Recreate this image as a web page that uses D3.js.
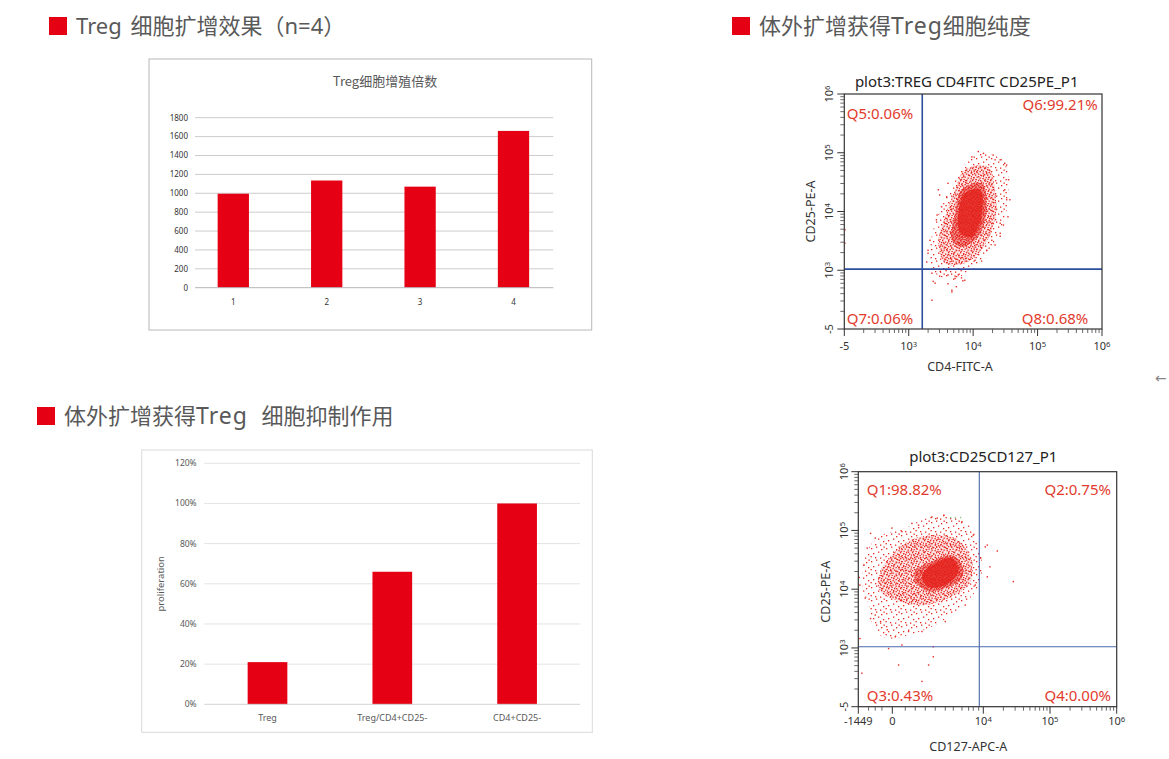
<!DOCTYPE html>
<html>
<head>
<meta charset="utf-8">
<script src="https://cdn.jsdelivr.net/npm/d3@7"></script>
<style>
  body { margin: 0; background: #fff; }
  svg { display: block; }
  text { white-space: pre; }
</style>
</head>
<body>
<svg id="page" width="1169" height="759"></svg>
<script>

/////////////////////////////////////////////////////////////////////////////////////////////////////
/**
 * Data
 *
 * */

var headerTexts = ["Treg 细胞扩增效果（n=4）", "体外扩增获得Treg细胞纯度", "体外扩增获得Treg 细胞抑制作用"];

// fold expansion, n=4
var growthTitle = "Treg细胞增殖倍数";
var growthCats = ["1", "2", "3", "4"];
var growthVals = [995, 1135, 1070, 1660];
var growthTicks = [0, 200, 400, 600, 800, 1000, 1200, 1400, 1600, 1800];

// suppression assay
var suppCats = ["Treg", "Treg/CD4+CD25-", "CD4+CD25-"];
var suppVals = [0.21, 0.66, 1.00];
var suppTicks = [0, 0.2, 0.4, 0.6, 0.8, 1.0, 1.2];
var suppAxisTitle = "proliferation";

// flow plots: all coordinates in display decades (10^3 -> 3, 10^4 -> 4 ...),
// the lowest label (-5 / -1449) sits at the low end of the axis
var purityTitle = "plot3:TREG CD4FITC CD25PE_P1";
var purityAxisTitles = ["CD4-FITC-A", "CD25-PE-A"];
var purityXTicks = [[2, "-5"], [3, "10", "3"], [4, "10", "4"], [5, "10", "5"], [6, "10", "6"]];
var purityYTicks = [[2, "-5"], [3, "10", "3"], [4, "10", "4"], [5, "10", "5"], [6, "10", "6"]];
var purityQuads = ["Q5:0.06%", "Q6:99.21%", "Q7:0.06%", "Q8:0.68%"];   // UL, UR, LL, LR
var purityGate = [3.21, 3.02];
// density outlines of the event cloud, sparse -> solid
var purityHalo = [[4.18, 4.99], [4.49, 4.83], [4.52, 4.03], [4.44, 3.74], [4.29, 3.40], [4.13, 3.12],
                  [3.87, 2.95], [3.72, 2.83], [3.41, 2.95], [3.33, 3.23], [3.38, 3.69], [3.56, 4.20],
                  [3.72, 4.54], [3.92, 4.88]];
var purityMid = [[3.87, 4.71], [4.23, 4.76], [4.34, 4.37], [4.34, 3.86], [4.13, 3.34], [3.87, 3.12],
                 [3.56, 3.12], [3.46, 3.46], [3.56, 3.91], [3.72, 4.37]];
var purityCore = [[3.82, 4.37], [4.13, 4.48], [4.21, 4.08], [4.08, 3.57], [3.82, 3.40], [3.67, 3.51],
                  [3.72, 3.97]];
var purityHeart = [[3.87, 4.31], [4.11, 4.37], [4.13, 3.91], [3.98, 3.57], [3.80, 3.63], [3.77, 3.97]];
var purityDots = [[3.38, 2.81], [3.67, 2.66], [3.36, 2.49], [3.82, 2.87], [3.72, 2.90], [3.84, 2.82],
                  [4.54, 3.91], [4.52, 4.79], [4.42, 4.88], [2.01, 3.69], [2.01, 3.46], [3.48, 2.90],
                  [3.61, 2.77], [3.28, 3.14], [4.57, 4.20], [4.34, 3.43], [4.42, 3.58], [3.48, 4.28],
                  [3.44, 3.94], [4.16, 4.99], [4.31, 4.96], [4.49, 4.82], [3.61, 4.48], [3.46, 4.37],
                  [3.43, 3.86], [3.33, 3.51], [3.30, 3.29], [3.36, 2.95], [3.41, 2.78], [3.72, 2.86],
                  [3.77, 2.92], [3.87, 2.83], [4.42, 3.80], [4.47, 3.77], [4.29, 3.51], [4.52, 4.20],
                  [3.98, 4.93], [4.08, 5.02], [4.34, 4.88], [4.55, 4.54], [4.49, 4.37], [4.42, 3.63],
                  [4.21, 3.34], [4.03, 3.17], [3.59, 4.25], [3.51, 4.08], [3.30, 3.34], [3.49, 2.98],
                  [3.61, 2.92], [3.67, 2.63], [3.74, 2.72]];

var markerTitle = "plot3:CD25CD127_P1";
var markerAxisTitles = ["CD127-APC-A", "CD25-PE-A"];
var markerXTicks = [[2.126, "-1449"], [2.636, "0"], [4, "10", "4"], [5, "10", "5"], [6, "10", "6"]];
var markerYTicks = [[2, "-5"], [3, "10", "3"], [4, "10", "4"], [5, "10", "5"], [6, "10", "6"]];
var markerXMinor = [2.28, 2.38, 2.48, 2.83, 2.98, 3.13, 3.28, 3.43, 3.55, 3.68, 3.78, 3.85, 3.93];
var markerQuads = ["Q1:98.82%", "Q2:0.75%", "Q3:0.43%", "Q4:0.00%"];
var markerGate = [3.94, 3.02];
var markerHalo = [[3.43, 5.26], [3.78, 5.09], [3.93, 4.75], [3.98, 4.30], [3.88, 3.96], [3.58, 3.62],
                  [3.28, 3.39], [2.88, 3.22], [2.58, 3.16], [2.38, 3.28], [2.28, 3.73], [2.18, 4.07],
                  [2.28, 4.70], [2.48, 4.92], [2.83, 5.04], [3.08, 5.18]];
var markerMid = [[2.98, 4.87], [3.58, 4.87], [3.83, 4.47], [3.78, 4.07], [3.48, 3.85], [3.13, 3.73],
                 [2.73, 3.79], [2.43, 4.02], [2.48, 4.36], [2.68, 4.64]];
var markerCore = [[3.23, 4.47], [3.53, 4.58], [3.68, 4.41], [3.68, 4.19], [3.43, 4.02], [3.18, 3.96],
                  [2.98, 4.13], [2.98, 4.30]];
var markerHeart = [[3.23, 4.41], [3.53, 4.53], [3.63, 4.30], [3.43, 4.07], [3.18, 4.04], [3.08, 4.21]];
var markerDots = [[4.21, 4.65], [4.45, 4.13], [4.06, 4.75], [4.03, 4.72], [4.10, 4.38], [4.06, 4.21],
                  [2.78, 3.05], [3.25, 3.02], [2.58, 2.99], [3.18, 2.71], [2.73, 2.71], [3.25, 2.85],
                  [2.18, 2.57], [3.08, 2.43], [2.15, 4.07], [2.15, 3.16], [2.14, 4.20], [2.63, 5.04],
                  [2.31, 4.95], [2.26, 4.70], [2.38, 3.56], [2.46, 3.45], [2.56, 3.31], [2.88, 3.28],
                  [3.41, 5.26], [3.31, 5.21], [3.03, 5.09], [2.78, 4.98], [2.38, 4.87], [2.21, 4.41],
                  [2.23, 3.85], [2.31, 3.50], [2.68, 3.19], [3.08, 3.28], [3.43, 3.45], [3.73, 3.73],
                  [3.88, 4.07], [3.96, 4.53], [3.85, 4.92], [3.68, 5.15], [3.23, 5.23], [2.93, 5.12]];
var markerGreen = [[3.51, 5.22], [3.58, 5.22], [3.66, 5.22]];


/////////////////////////////////////////////////////////////////////////////////////////////////////
/**
 * Page setup
 *
 * */

var RED = "#e50013";
var DOT = "#e62a22";
var CJK = "'Noto Sans CJK SC', 'Noto Sans', sans-serif";
var SANS = "'Noto Sans', 'DejaVu Sans', sans-serif";

var svg = d3.select("#page");
svg.append("rect").attr("width", 1169).attr("height", 759).attr("fill", "#fff");
var defs = svg.append("defs");

// speckle textures for the flow cytometry clouds
function speckle(id, w, h, spots) {
    var p = defs.append("pattern")
        .attr("id", id)
        .attr("patternUnits", "userSpaceOnUse")
        .attr("width", w).attr("height", h);
    spots.forEach(function(s){
        p.append("rect").attr("x", s[0]).attr("y", s[1])
            .attr("width", 1.3).attr("height", 1.3).attr("fill", DOT);
    });
}
speckle("dotsSparse", 15, 13, [[1, 2], [6, 0.5], [11, 3], [3, 7], [8, 5.5], [13, 8], [5, 11], [10, 11.5], [0.5, 10], [13.5, 0.5]]);
speckle("dotsDense", 12, 12, [[0, 0], [3, 1], [6, 0], [9, 1.5], [1.5, 3], [4.5, 4], [7.5, 3], [10.5, 4.5],
    [0, 6], [3, 6.5], [6, 5.5], [9, 7], [1.5, 9], [4.5, 8.5], [7.5, 9.5], [10.5, 10], [0.5, 11],
    [3.5, 11], [6.5, 11.5], [11, 2.5], [5, 2], [2, 5], [8, 6.5], [11, 8]]);
speckle("dotsCore", 7, 7, [[0, 0], [3, 0.5], [5.5, 1], [1.5, 2.5], [4.5, 3], [0, 4], [2.8, 4.6], [5.6, 5], [1.2, 6], [4, 6.2]]);

// section headers: latin runs get their own font, spacing per header
var headerPos = [[49, 17], [732, 17], [37, 407]];
var headerLatin = [{ size: 22, ls: 0, gap: 3 }, { size: 23, ls: 1, gap: 0 }, { size: 23, ls: 1, gap: 8 }];

function headerText(sel, t, st) {
    var parts = t.match(/[A-Za-z0-9=]+|\s+|[^A-Za-z0-9=\s]+/g);
    var seenLatin = false, gapDone = false;
    parts.forEach(function(p){
        var ts = sel.append("tspan").text(p);
        if (/^[A-Za-z0-9=]+$/.test(p)) {
            ts.attr("font-family", SANS).attr("font-size", st.size).attr("letter-spacing", st.ls);
            seenLatin = true;
        } else if (/^\s+$/.test(p)) {
            ts.attr("font-family", SANS);
        } else if (seenLatin && !gapDone) {
            ts.attr("dx", st.gap);
            gapDone = true;
        }
    });
}

headerTexts.forEach(function(t, i){
    svg.append("rect")
        .attr("x", headerPos[i][0]).attr("y", headerPos[i][1])
        .attr("width", 18).attr("height", 18)
        .attr("fill", RED);
    svg.append("text")
        .attr("x", headerPos[i][0] + 27).attr("y", headerPos[i][1] + 17)
        .attr("font-family", CJK).attr("font-size", 22)
        .attr("fill", "#595959")
        .call(headerText, t, headerLatin[i]);
});

svg.append("text")
    .attr("x", 1155).attr("y", 383)
    .attr("font-family", SANS).attr("font-size", 14)
    .attr("fill", "#888")
    .text("←");


/////////////////////////////////////////////////////////////////////////////////////////////////////
/**
 * Excel style bar charts
 *
 * */

function barChart(o) {

    var g = svg.append("g");

    g.append("rect")
        .attr("x", o.frame[0]).attr("y", o.frame[1])
        .attr("width", o.frame[2]).attr("height", o.frame[3])
        .attr("fill", "#fff")
        .attr("stroke", o.frameColor);

    if (o.title) {
        g.append("text")
            .attr("x", o.titlePos[0]).attr("y", o.titlePos[1])
            .attr("text-anchor", "middle")
            .attr("font-family", CJK).attr("font-size", 13)
            .attr("fill", "#595959")
            .text(o.title);
    }

    var y = d3.scaleLinear().domain(o.yDomain).range([o.base, o.top]);
    var x = d3.scaleBand().domain(o.cats).range(o.band);

    g.selectAll(".grid")
        .data(o.ticks.slice(1))
        .join("line")
            .attr("x1", o.grid[0]).attr("x2", o.grid[1])
            .attr("y1", function(d){ return y(d); })
            .attr("y2", function(d){ return y(d); })
            .attr("stroke", o.gridColor);

    g.selectAll(".ylab")
        .data(o.ticks)
        .join("text")
            .attr("x", o.labelX)
            .attr("y", function(d){ return y(d); })
            .attr("dy", "0.35em")
            .attr("text-anchor", "end")
            .attr("font-family", SANS).attr("font-size", o.fontSize)
            .attr("fill", o.labelColor)
            .text(o.format);

    var bw = x.bandwidth() * o.barFrac;
    g.selectAll(".bar")
        .data(o.vals)
        .join("rect")
            .attr("x", function(d, i){ return x(o.cats[i]) + (x.bandwidth() - bw) / 2; })
            .attr("y", function(d){ return y(d); })
            .attr("width", bw)
            .attr("height", function(d){ return y(0) - y(d); })
            .attr("fill", RED);

    g.append("line")
        .attr("x1", o.grid[0]).attr("x2", o.grid[1])
        .attr("y1", y(0)).attr("y2", y(0))
        .attr("stroke", o.axisColor);

    g.selectAll(".xlab")
        .data(o.cats)
        .join("text")
            .attr("x", function(d){ return x(d) + x.bandwidth() / 2; })
            .attr("y", o.catY)
            .attr("text-anchor", "middle")
            .attr("font-family", SANS).attr("font-size", o.catSize)
            .attr("fill", o.labelColor)
            .text(function(d){ return d; });

    if (o.yTitle) {
        g.append("text")
            .attr("transform", "translate(" + o.yTitlePos[0] + "," + o.yTitlePos[1] + ") rotate(-90)")
            .attr("text-anchor", "middle")
            .attr("font-family", SANS).attr("font-size", 9.5)
            .attr("fill", "#595959")
            .text(o.yTitle);
    }
}

barChart({
    frame: [149, 59, 442.7, 271], frameColor: "#b8b8b8",
    title: growthTitle, titlePos: [385, 86],
    cats: growthCats, vals: growthVals, ticks: growthTicks,
    yDomain: [0, 1800], base: 287.7, top: 117.7,
    grid: [195, 553.3], gridColor: "#cccccc", axisColor: "#b5b5b5",
    band: [186.6, 560.2], barFrac: 0.335,
    labelX: 188, labelColor: "#333", fontSize: 8, catSize: 8, catY: 304.5,
    format: d3.format("d")
});

barChart({
    frame: [141.7, 450, 450.6, 282.3], frameColor: "#dadada",
    cats: suppCats, vals: suppVals, ticks: suppTicks,
    yDomain: [0, 1.2], base: 704.3, top: 463.3,
    grid: [204.3, 580], gridColor: "#e3e3e3", axisColor: "#d3d3d3",
    band: [205.1, 579.5], barFrac: 0.318,
    labelX: 196.7, labelColor: "#595959", fontSize: 8.5, catSize: 9, catY: 721,
    format: d3.format(".0%"),
    yTitle: suppAxisTitle, yTitlePos: [164, 583.8]
});


/////////////////////////////////////////////////////////////////////////////////////////////////////
/**
 * Flow cytometry quadrant plots
 *
 * */

function decadeMinors(d0, d1) {
    var out = [];
    for (var d = d0; d < d1; d++) {
        for (var k = 2; k <= 9; k++) out.push(d + Math.log10(k));
    }
    return out;
}

function tickLabel(sel, t) {
    sel.append("tspan").text(t[1]);
    if (t[2]) sel.append("tspan").attr("dy", "-0.45em").attr("font-size", "0.7em").text(t[2]);
}

function flowPlot(c) {

    var g = svg.append("g");
    var x = d3.scaleLinear().domain(c.xDomain).range([c.left, c.right]);
    var y = d3.scaleLinear().domain([2, 6]).range([c.bottom, c.top]);

    defs.append("clipPath").attr("id", c.id + "-clip")
        .append("rect")
            .attr("x", c.left).attr("y", c.top)
            .attr("width", c.right - c.left).attr("height", c.bottom - c.top);

    var plot = g.append("g").attr("clip-path", "url(#" + c.id + "-clip)");
    var blob = d3.line()
        .x(function(d){ return x(d[0]); })
        .y(function(d){ return y(d[1]); })
        .curve(d3.curveCatmullRomClosed.alpha(0.5));

    plot.append("path").attr("d", blob(c.halo)).attr("fill", "url(#dotsSparse)");
    plot.append("path").attr("d", blob(c.mid)).attr("fill", "rgba(228,36,30,0.12)");
    plot.append("path").attr("d", blob(c.mid)).attr("fill", "url(#dotsDense)");
    plot.append("path").attr("d", blob(c.core)).attr("fill", "rgba(228,36,30,0.4)");
    plot.append("path").attr("d", blob(c.core)).attr("fill", "url(#dotsCore)");
    plot.append("path").attr("d", blob(c.heart)).attr("fill", "#e3201a").attr("opacity", 0.8);

    plot.selectAll(".dot")
        .data(c.dots)
        .join("rect")
            .attr("x", function(d){ return x(d[0]) - 0.7; })
            .attr("y", function(d){ return y(d[1]) - 0.7; })
            .attr("width", 1.4).attr("height", 1.4)
            .attr("fill", DOT);

    if (c.green) {
        plot.selectAll(".gdot")
            .data(c.green)
            .join("rect")
                .attr("x", function(d){ return x(d[0]) - 0.7; })
                .attr("y", function(d){ return y(d[1]) - 0.7; })
                .attr("width", 1.4).attr("height", 1.4)
                .attr("fill", "#8cc88c");
    }

    // quadrant gate
    g.append("line")
        .attr("x1", x(c.gate[0])).attr("x2", x(c.gate[0]))
        .attr("y1", c.top).attr("y2", c.bottom)
        .attr("stroke", c.gateColor).attr("stroke-width", c.gateWidth);
    g.append("line")
        .attr("x1", c.left).attr("x2", c.right)
        .attr("y1", y(c.gate[1])).attr("y2", y(c.gate[1]))
        .attr("stroke", c.gateColor).attr("stroke-width", c.gateWidth);

    g.append("rect")
        .attr("x", c.left).attr("y", c.top)
        .attr("width", c.right - c.left).attr("height", c.bottom - c.top)
        .attr("fill", "none").attr("stroke", "#333").attr("stroke-width", 1.2);

    // ticks
    var xMajor = c.xTicks.map(function(t){ return t[0]; });
    var yMajor = c.yTicks.map(function(t){ return t[0]; });

    g.selectAll(".xmaj").data(xMajor).join("line")
        .attr("x1", function(d){ return x(d); }).attr("x2", function(d){ return x(d); })
        .attr("y1", c.bottom).attr("y2", c.bottom + 7)
        .attr("stroke", "#333");
    g.selectAll(".xmin").data(c.xMinor).join("line")
        .attr("x1", function(d){ return x(d); }).attr("x2", function(d){ return x(d); })
        .attr("y1", c.bottom).attr("y2", c.bottom + 4)
        .attr("stroke", "#444").attr("stroke-width", 0.8);
    g.selectAll(".ymaj").data(yMajor).join("line")
        .attr("y1", function(d){ return y(d); }).attr("y2", function(d){ return y(d); })
        .attr("x1", c.left).attr("x2", c.left - 7)
        .attr("stroke", "#333");
    g.selectAll(".ymin").data(c.yMinor).join("line")
        .attr("y1", function(d){ return y(d); }).attr("y2", function(d){ return y(d); })
        .attr("x1", c.left).attr("x2", c.left - 4)
        .attr("stroke", "#444").attr("stroke-width", 0.8);

    g.selectAll(".xlab").data(c.xTicks).join("text")
        .attr("x", function(d){ return x(d[0]); })
        .attr("y", c.xTickY)
        .attr("text-anchor", "middle")
        .attr("font-family", SANS).attr("font-size", 11)
        .attr("fill", "#333")
        .each(function(d){ tickLabel(d3.select(this), d); });

    g.selectAll(".ylab").data(c.yTicks).join("text")
        .attr("transform", function(d){ return "translate(" + c.yTickX + "," + y(d[0]) + ") rotate(-90)"; })
        .attr("text-anchor", "middle")
        .attr("font-family", SANS).attr("font-size", 11)
        .attr("fill", "#333")
        .each(function(d){ tickLabel(d3.select(this), d); });

    // texts
    g.append("text")
        .attr("x", c.titlePos[0]).attr("y", c.titlePos[1])
        .attr("text-anchor", "middle")
        .attr("font-family", SANS).attr("font-size", 15)
        .attr("fill", "#222")
        .text(c.title);

    g.append("text")
        .attr("x", c.xTitlePos[0]).attr("y", c.xTitlePos[1])
        .attr("text-anchor", "middle")
        .attr("font-family", SANS).attr("font-size", 12.5)
        .attr("fill", "#333")
        .text(c.axisTitles[0]);

    g.append("text")
        .attr("transform", "translate(" + c.yTitlePos[0] + "," + c.yTitlePos[1] + ") rotate(-90)")
        .attr("text-anchor", "middle")
        .attr("font-family", SANS).attr("font-size", 12.5)
        .attr("fill", "#333")
        .text(c.axisTitles[1]);

    g.selectAll(".quad").data(c.quads).join("text")
        .attr("x", function(d, i){ return c.quadPos[i][0]; })
        .attr("y", function(d, i){ return c.quadPos[i][1]; })
        .attr("text-anchor", function(d, i){ return i % 2 ? "end" : "start"; })
        .attr("font-family", SANS).attr("font-size", 15)
        .attr("fill", "#e23b2e")
        .text(function(d){ return d; });
}

flowPlot({
    id: "purity",
    left: 844.3, right: 1102, top: 94, bottom: 329, xDomain: [2, 6],
    halo: purityHalo, mid: purityMid, core: purityCore, heart: purityHeart, dots: purityDots,
    gate: purityGate, gateColor: "#2d4e9e", gateWidth: 1.6,
    xTicks: purityXTicks, yTicks: purityYTicks,
    xMinor: decadeMinors(2, 6), yMinor: decadeMinors(2, 6),
    xTickY: 350, yTickX: 833,
    title: purityTitle, titlePos: [966.7, 87],
    axisTitles: purityAxisTitles, xTitlePos: [960, 371], yTitlePos: [815, 211.5],
    quads: purityQuads,
    quadPos: [[846.7, 118.5], [1097.7, 109.5], [846.7, 323.5], [1088.3, 323.5]]
});

flowPlot({
    id: "marker",
    left: 858.3, right: 1116.7, top: 471.7, bottom: 706.7, xDomain: [2.126, 6],
    halo: markerHalo, mid: markerMid, core: markerCore, heart: markerHeart, dots: markerDots, green: markerGreen,
    gate: markerGate, gateColor: "#4a68ad", gateWidth: 1.1,
    xTicks: markerXTicks, yTicks: markerYTicks,
    xMinor: markerXMinor.concat(decadeMinors(4, 6)), yMinor: decadeMinors(2, 6),
    xTickY: 725, yTickX: 848,
    title: markerTitle, titlePos: [983.3, 462],
    axisTitles: markerAxisTitles, xTitlePos: [968.3, 751], yTitlePos: [830, 591.7],
    quads: markerQuads,
    quadPos: [[866.7, 494.5], [1111, 494.5], [866.7, 700.5], [1111, 700.5]]
});

</script>
</body>
</html>
